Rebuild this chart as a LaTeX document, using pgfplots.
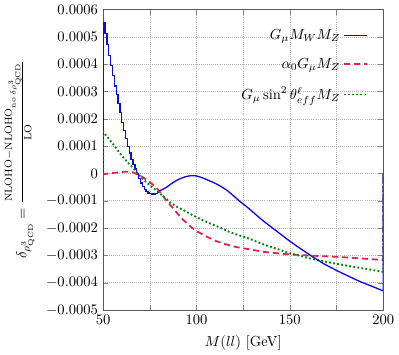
\documentclass[border=0pt]{standalone}
\usepackage{pgfplots}
\pgfplotsset{compat=1.18}
\definecolor{cblue}{RGB}{10,10,235}
\definecolor{cred}{RGB}{228,32,78}
\definecolor{cgreen}{RGB}{0,135,0}
\begin{document}
\begin{tikzpicture}
\begin{axis}[
  scale only axis,
  width=192pt, height=206pt,
  xmin=50, xmax=200, ymin=-0.0005, ymax=0.0006,
  xtick={50,75,...,200},
  xticklabels={50,,100,,150,,200},
  ytick={-0.0005,-0.0004,-0.0003,-0.0002,-0.0001,0,0.0001,0.0002,0.0003,0.0004,0.0005,0.0006},
  yticklabels={$-0.0005$,$-0.0004$,$-0.0003$,$-0.0002$,$-0.0001$,$0$,$0.0001$,$0.0002$,$0.0003$,$0.0004$,$0.0005$,$0.0006$},
  scaled y ticks=false,
  grid=major,
  major grid style={densely dotted, gray!55},
  tick align=inside,
  major tick length=3.5pt,
  axis line style={gray!70!black},
  xlabel={$M(ll)$ [GeV]},
  ylabel={$\delta_{\rho^3_{\mathrm{QCD}}} = \frac{\mathrm{NLOHO}-\mathrm{NLOHO}_{\mathrm{no}\,\delta\rho^3_{\mathrm{QCD}}}}{\mathrm{LO}}$},
  ylabel shift=1pt,
  legend style={draw=none, fill=none, at={(rel axis cs:0.962,0.955)}, anchor=north east,
    row sep=7.5pt},
  legend cell align=right,
  legend plot pos=right,
  legend image code/.code={\draw[#1] (0cm,0cm) -- (0.55cm,0cm);},
]
% G_mu M_W M_Z : histogram steps at low mass
\addplot[cblue, line width=0.9pt, const plot mark left] coordinates {
(50,0) (50,0.000553) (51,0.000513) (52,0.000471) (53,0.000433) (54,0.000396)
(55,0.000358) (56,0.000320) (57,0.000288) (58,0.000255) (59,0.000222)
(60,0.000187) (61,0.000157) (62,0.000128) (63,0.000098) (64,0.000075)
(65,0.000051) (66,0.000034) (67,0.000016) (68,-0.000002) (69,-0.000019)
(70,-0.000035) (71,-0.000048) (72,-0.000058) (73,-0.000066) (74,-0.000071)
(75,-0.000074) (76,-0.000075) (77,-0.000075) (78,-0.000073) (79,-0.000069)
(80,-0.000064)};
\addlegendentry{$G_\mu M_W M_Z$}
\addplot[cred, line width=1.2pt, dash pattern=on 4.2pt off 2.6pt] coordinates {
(50,0) (50,-0.000003) (53,0.000000) (57,0.000003) (61,0.000006) (64,0.000006)
(66,0.000004) (68,-0.000002) (70,-0.000009) (72,-0.000017) (74,-0.000027)
(76,-0.000037) (78,-0.000049) (80,-0.000064) (82,-0.000082) (84,-0.000100)
(86,-0.000116) (88,-0.000131) (90,-0.000148) (92,-0.000164) (94,-0.000177)
(96,-0.000190) (98,-0.000201) (100,-0.000211) (103,-0.000222) (106,-0.000233)
(110,-0.000246) (115,-0.000258) (121,-0.000269) (127,-0.000276) (136,-0.000287)
(149,-0.000296) (162,-0.000301) (175,-0.000305) (188,-0.000311) (200,-0.000317)
(200,0)};
\addlegendentry{$\alpha_0 G_\mu M_Z$}
\addplot[cgreen, line width=1.3pt, dash pattern=on 1.2pt off 1.6pt] coordinates {
(50,0) (50,0.000153) (55,0.000110) (60,0.000065) (63,0.000042) (66,0.000020)
(69,-0.000003) (71,-0.000019) (74,-0.000037) (77,-0.000054) (80,-0.000071)
(83,-0.000088) (86,-0.000106) (90,-0.000124) (94,-0.000138) (98,-0.000153)
(103,-0.000170) (108,-0.000185) (113,-0.000199) (118,-0.000215) (123,-0.000227)
(128,-0.000238) (136,-0.000260) (149,-0.000290) (162,-0.000313) (175,-0.000331)
(188,-0.000346) (200,-0.000360) (200,0)};
\addlegendentry{$G_\mu \sin^2\theta^\ell_{eff} M_Z$}
% smooth part of the blue curve
\addplot[cblue, line width=0.9pt, forget plot] coordinates {
(80,-0.000064) (82,-0.000058) (84,-0.000050) (86,-0.000040) (88,-0.000031)
(90,-0.000023) (92,-0.000017) (94,-0.000012) (96,-0.000009) (98,-0.000008)
(100,-0.000009) (102,-0.000013) (104,-0.000018) (106,-0.000024) (108,-0.000030)
(110,-0.000036) (113,-0.000047) (116,-0.000060) (118,-0.000071) (120,-0.000083)
(123,-0.000101) (126,-0.000117) (129,-0.000134) (132,-0.000152) (136,-0.000175)
(140,-0.000196) (145,-0.000222) (149,-0.000243) (155,-0.000272) (162,-0.000304)
(168,-0.000330) (175,-0.000355) (182,-0.000378) (188,-0.000397) (194,-0.000413)
(200,-0.000430) (200,0)};
\end{axis}
\end{tikzpicture}
\end{document}
